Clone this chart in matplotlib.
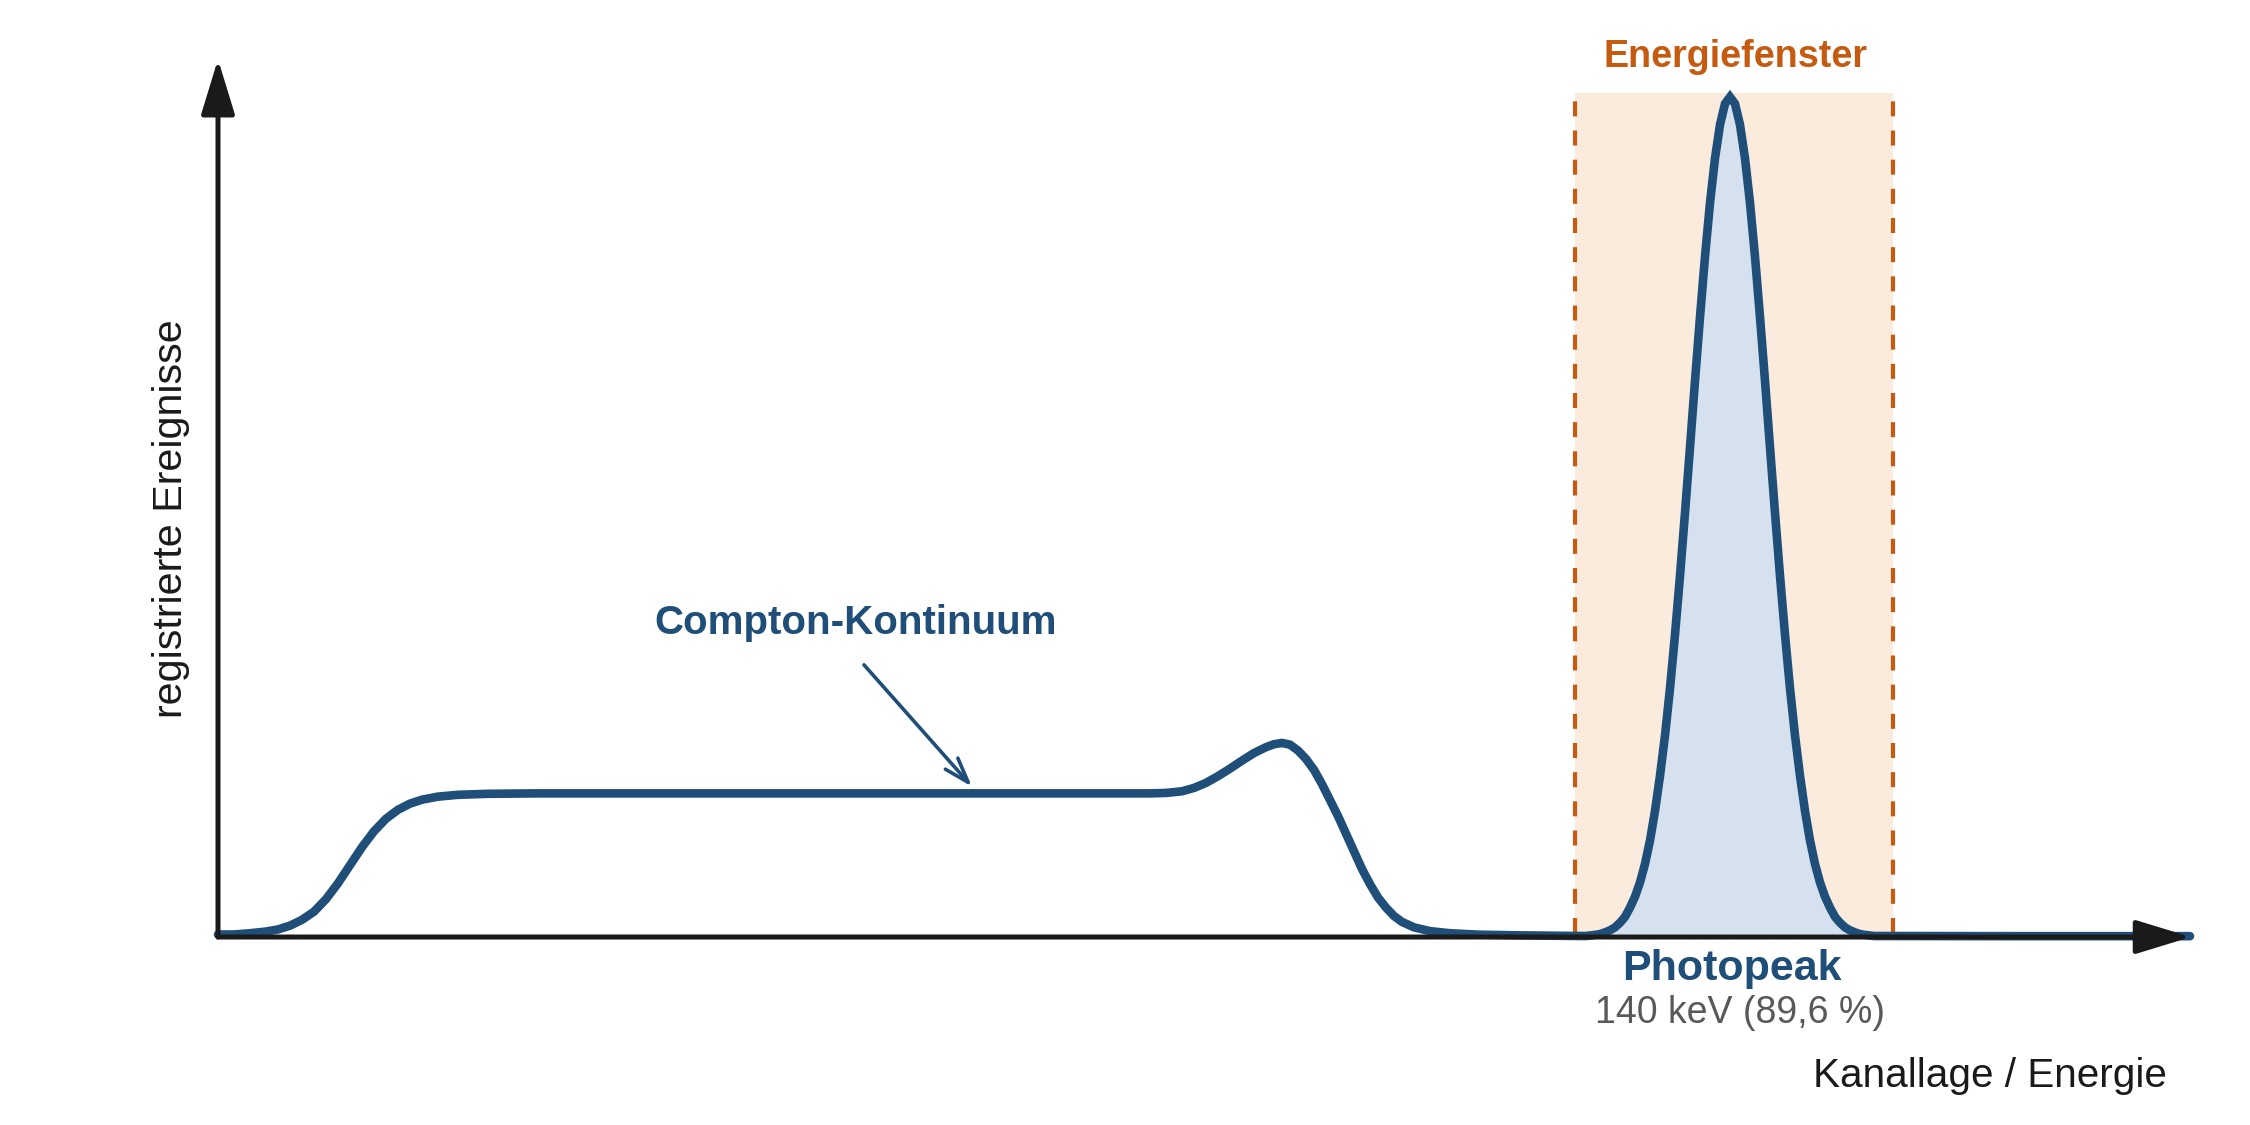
import matplotlib
matplotlib.use("Agg")
import matplotlib.pyplot as plt

plt.rcParams['font.family'] = ['Liberation Sans', 'DejaVu Sans']

# ---- data (channel vs. relative counts, photopeak = 100) ----
compton_x = [0, 8, 16, 24, 30, 36, 42, 48, 54, 60, 66, 72, 78, 84, 90, 96, 102,
             110, 120, 135, 160, 466, 474, 482, 488, 494, 500, 506, 512, 518,
             524, 528, 532, 536, 540, 544, 548, 552, 556, 560, 564, 568, 572,
             576, 580, 584, 588, 592, 598, 606, 616, 630, 650, 681]
compton_y = [0.3, 0.3, 0.45, 0.65, 0.9, 1.35, 2.05, 3.02, 4.51, 6.40, 8.55,
             10.70, 12.59, 14.08, 15.15, 15.88, 16.35, 16.71, 16.93, 17.05,
             17.1, 17.1, 17.15, 17.35, 17.75, 18.35, 19.15, 20.05, 21.0, 21.9,
             22.6, 22.95, 23.1, 22.9, 22.2, 21.2, 19.9, 18.2, 16.3, 14.4, 12.3,
             10.2, 8.1, 6.3, 4.7, 3.5, 2.5, 1.8, 1.15, 0.7, 0.45, 0.28, 0.2,
             0.12]
peak_x = [684, 688.5, 691, 693.5, 696, 698.5, 701, 703.5, 706, 708.5, 711,
          713.5, 716, 718.5, 721, 723.5, 726, 728.5, 731, 733.5, 736, 738.5,
          741, 743.5, 746, 748.5, 751, 753.5, 756, 758.5, 761, 763.5, 766,
          768.5, 771, 773.5, 776, 778.5, 781, 783.5, 786, 788.5, 791, 793.5,
          796, 798.5, 801, 803.5, 806, 808.5, 811, 813.5, 816, 818.5, 821,
          823.5, 828]
peak_y = [0.12, 0.25, 0.35, 0.55, 0.8, 1.15, 1.7, 2.4, 3.5, 4.8, 6.5, 8.7,
          11.5, 15.0, 19.2, 24.0, 29.6, 36.0, 43.0, 50.5, 58.3, 66.2, 73.8,
          81.0, 87.4, 92.7, 96.7, 99.2, 100.0, 99.2, 96.7, 92.7, 87.4, 81.0,
          73.8, 66.2, 58.3, 50.5, 43.0, 36.0, 29.6, 24.0, 19.2, 15.0, 11.5,
          8.7, 6.5, 4.8, 3.5, 2.4, 1.7, 1.15, 0.8, 0.55, 0.35, 0.25, 0.12]
tail_x = [900, 986]
tail_y = [0.1, 0.1]

window_lo, window_hi, window_top = 678.5, 837.5, 100.5
x_axis_end, y_axis_end = 986.5, 104.5

title_window = "Energiefenster"
label_compton = "Compton-Kontinuum"
label_peak = "Photopeak"
label_peak_sub = "140 keV (89,6 %)"
xlabel = "Kanallage / Energie"
ylabel = "registrierte Ereignisse"

# ---- colours ----
BLUE = '#1f4e79'
LIGHTBLUE = '#d5e1ee'
ORANGE = '#c55a11'
WINDOW = '#fbebdd'
AXIS = '#1a1a1a'
GREY = '#595959'

fig = plt.figure(figsize=(22.5, 11.25), dpi=100)
ax = fig.add_axes([0, 0, 1, 1])
ax.set_xlim(-109, 1016)
ax.set_ylim(-22.38, 111.55)
ax.axis('off')

# energy window
ax.fill_between([window_lo, window_hi], 0, window_top, color=WINDOW, lw=0, zorder=1)
for xv in (window_lo, window_hi):
    ax.plot([xv, xv], [0.5, window_top], color=ORANGE, lw=3,
            linestyle=(0, (3.6, 3.4)), zorder=2)

# photopeak fill
ax.fill_between(peak_x, 0, peak_y, color=LIGHTBLUE, lw=0, zorder=2)

# spectrum curve
xs = compton_x + peak_x + tail_x
ys = compton_y + peak_y + tail_y
ax.plot(xs, ys, color=BLUE, lw=6.2, solid_joinstyle='miter',
        solid_capstyle='round', zorder=3)

# axes with arrows
arrow_kw = dict(arrowstyle='-|>,head_length=1.7,head_width=0.52',
                color=AXIS, lw=3.6, mutation_scale=20, shrinkA=0, shrinkB=0)
ax.annotate('', xy=(x_axis_end, 0), xytext=(0, 0),
            arrowprops=arrow_kw, zorder=5)
ax.annotate('', xy=(0, y_axis_end), xytext=(0, 0),
            arrowprops=arrow_kw, zorder=5)

# texts
ax.text(759, 104.8, title_window, color=ORANGE, fontsize=27.2,
        fontweight='bold', ha='center', va='center')
ax.text(319, 37.4, label_compton, color=BLUE, fontsize=29,
        fontweight='bold', ha='center', va='center')
ax.annotate('', xy=(377, 17.9), xytext=(323, 32.4),
            arrowprops=dict(arrowstyle='->,head_length=0.9,head_width=0.3',
                            color=BLUE, lw=2.6, mutation_scale=20,
                            shrinkA=0, shrinkB=0), zorder=4)
ax.text(757, -5.12, label_peak, color=BLUE, fontsize=31, fontweight='bold',
        ha='center', va='baseline')
ax.text(761, -10.2, label_peak_sub, color=GREY, fontsize=27,
        ha='center', va='baseline')
ax.text(886, -17.86, xlabel, color=AXIS, fontsize=29.2, ha='center',
        va='baseline')
ax.text(-23.5, 49.8, ylabel, color=AXIS, fontsize=29.7, ha='center',
        va='center', rotation=90)

fig.savefig('out.png', dpi=100)
